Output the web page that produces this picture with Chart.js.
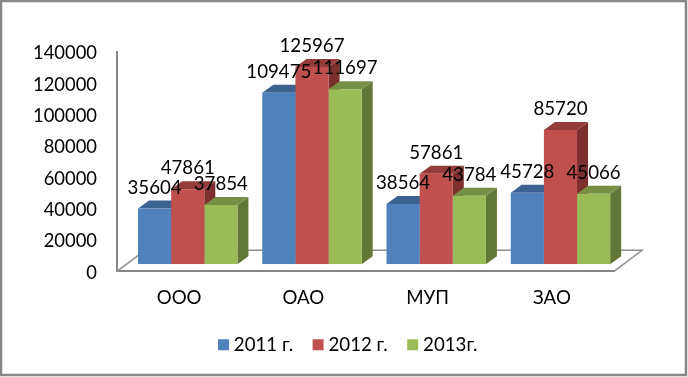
<!DOCTYPE html>
<html><head><meta charset="utf-8">
<style>html,body{margin:0;padding:0;background:#fff}#w{width:688px;height:377px}</style>
<script src="https://cdn.jsdelivr.net/npm/chart.js@4"></script>
</head><body><div id="w"><canvas id="c" width="688" height="377"></canvas></div>
<script>
const categories = ['ООО','ОАО','МУП','ЗАО'];
const seriesNames = ['2011 г.','2012 г.','2013г.'];
const values2011 = [35604,109475,38564,45728];
const values2012 = [47861,125967,57861,85720];
const values2013 = [37854,111697,43784,45066];
const yTicks = [0,20000,40000,60000,80000,100000,120000,140000];
const frontColors = ['#4F81BD','#C0504D','#9BBB59'];
const topColors = ['#3C6291','#943C3A','#778F45'];
const sideColors = ['#335379','#7C2F2D','#637837'];
const FONT = 'Lato', FS = 18.7;
const dX = 8.6, dY = -7, depthX = 11, depthY = 8;
const plugin3d = {
  id:'plugin3d',
  beforeDraw(chart){
    const c = chart.ctx;
    c.save();
    c.fillStyle='#fff'; c.fillRect(0,0,688,377);
    c.strokeStyle='#868686'; c.lineWidth=2.5;
    c.strokeRect(1,1,685,374);
    c.restore();
  },
  beforeDatasetsDraw(chart){
    const c = chart.ctx, a = chart.chartArea;
    c.save();
    c.strokeStyle='#8E8E8E'; c.lineWidth=1.5;
    c.beginPath();
    c.moveTo(a.left,a.bottom); c.lineTo(a.left+28,a.bottom-21);
    c.lineTo(a.right+28,a.bottom-21); c.lineTo(a.right,a.bottom);
    c.stroke();
    c.restore();
    c.save();
    c.translate(dX,dY);
    chart.data.datasets.forEach((ds,i)=>{
      chart.getDatasetMeta(i).data.forEach(b=>{
        const l=b.x-b.width/2, r=b.x+b.width/2, t=b.y, bt=b.base;
        c.fillStyle=sideColors[i];
        c.beginPath();
        c.moveTo(r,t);c.lineTo(r+depthX,t-depthY);c.lineTo(r+depthX,bt-depthY);c.lineTo(r,bt);c.closePath();c.fill();
        c.fillStyle=topColors[i];
        c.beginPath();
        c.moveTo(l,t);c.lineTo(l+depthX,t-depthY);c.lineTo(r+depthX,t-depthY);c.lineTo(r,t);c.closePath();c.fill();
      });
    });
  },
  afterDatasetsDraw(chart){
    const c = chart.ctx;
    c.restore();
    c.save();
    c.font=FS+'px '+FONT; c.fillStyle='#000'; c.textAlign='center'; c.textBaseline='middle';
    chart.data.datasets.forEach((ds,i)=>{
      chart.getDatasetMeta(i).data.forEach((b,j)=>{
        c.fillText(String(ds.data[j]), b.x+dX, b.y+dY-21);
      });
    });
    c.restore();
  }
};
new Chart(document.getElementById('c'),{
  type:'bar',
  data:{labels:categories,datasets:[
    {label:seriesNames[0],data:values2011,backgroundColor:frontColors[0]},
    {label:seriesNames[1],data:values2012,backgroundColor:frontColors[1]},
    {label:seriesNames[2],data:values2013,backgroundColor:frontColors[2]}
  ]},
  options:{
    responsive:false,animation:false,
    categoryPercentage:0.8,barPercentage:1,
    layout:{padding:{left:12,right:0,top:52,bottom:13}},
    plugins:{
      tooltip:{enabled:false},
      legend:{position:'bottom',labels:{
        font:{family:FONT,size:FS},color:'#000',usePointStyle:true,pointStyle:'rect',
        boxWidth:2,boxHeight:11,padding:24
      }}
    },
    scales:{
      x:{grid:{display:false,drawTicks:false},
         border:{color:'#868686',width:2},
         ticks:{font:{family:FONT,size:FS},color:'#000',padding:15,maxRotation:0},
         afterFit(s){s.height=40}},
      y:{min:0,max:140000,afterBuildTicks(s){s.ticks=yTicks.map(v=>({value:v}))},
         grid:{display:false,drawTicks:false},
         border:{color:'#868686',width:2},
         ticks:{font:{family:FONT,size:18.4},color:'#000',padding:20,labelOffset:1.5,callback:v=>String(v)},
         afterFit(s){s.width=105}},
      yRight:{position:'right',type:'linear',grid:{display:false,drawTicks:false},border:{display:false},
         ticks:{display:false},afterFit(s){s.width=74}}
    }
  },
  plugins:[plugin3d]
});
</script></body></html>
